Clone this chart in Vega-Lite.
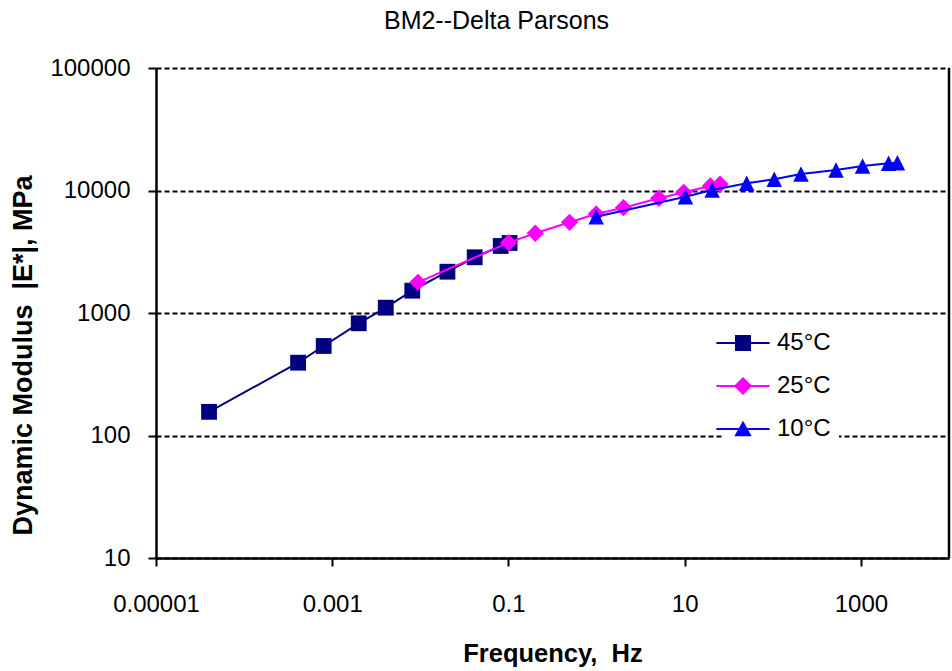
{
  "$schema": "https://vega.github.io/schema/vega-lite/v6.json",
  "width": 793,
  "height": 490,
  "autosize": "none",
  "padding": {"left": 156, "top": 68, "right": 3, "bottom": 113},
  "background": "white",
  "config": {"view": {"stroke": null}, "font": "Liberation Sans"},
  "title": {"text": "BM2--Delta Parsons", "fontSize": 25, "fontWeight": "normal", "font": "Liberation Sans", "color": "black", "anchor": "middle", "frame": "group", "dx": -56, "offset": 2, "baseline": "alphabetic"},
  "data": {"values": [
    {"series": "45°C", "f": 0.00004, "E": 156},
    {"series": "45°C", "f": 0.00041, "E": 393},
    {"series": "45°C", "f": 0.0008, "E": 538},
    {"series": "45°C", "f": 0.002, "E": 824},
    {"series": "45°C", "f": 0.00405, "E": 1105},
    {"series": "45°C", "f": 0.0081, "E": 1521},
    {"series": "45°C", "f": 0.0203, "E": 2173},
    {"series": "45°C", "f": 0.0414, "E": 2850},
    {"series": "45°C", "f": 0.0817, "E": 3524},
    {"series": "45°C", "f": 0.103, "E": 3728},
    {"series": "25°C", "f": 0.0094, "E": 1781},
    {"series": "25°C", "f": 0.1005, "E": 3750},
    {"series": "25°C", "f": 0.2018, "E": 4475},
    {"series": "25°C", "f": 0.494, "E": 5500},
    {"series": "25°C", "f": 0.99, "E": 6430},
    {"series": "25°C", "f": 2.02, "E": 7240},
    {"series": "25°C", "f": 5.09, "E": 8640},
    {"series": "25°C", "f": 9.77, "E": 9670},
    {"series": "25°C", "f": 19.6, "E": 10880},
    {"series": "25°C", "f": 25.2, "E": 11250},
    {"series": "10°C", "f": 0.99, "E": 6110},
    {"series": "10°C", "f": 10.2, "E": 8900},
    {"series": "10°C", "f": 20.5, "E": 10090},
    {"series": "10°C", "f": 50.6, "E": 11460},
    {"series": "10°C", "f": 104, "E": 12340},
    {"series": "10°C", "f": 209, "E": 13640},
    {"series": "10°C", "f": 522, "E": 14700},
    {"series": "10°C", "f": 1045, "E": 15850},
    {"series": "10°C", "f": 2060, "E": 16680},
    {"series": "10°C", "f": 2600, "E": 16870}
  ]},
  "encoding": {
    "x": {"field": "f", "type": "quantitative",
      "scale": {"type": "log", "domain": [0.00001, 10000], "nice": false},
      "axis": {"values": [0.00001, 0.001, 0.1, 10, 1000], "format": "~f", "labelFontSize": 24, "labelFont": "Liberation Sans", "labelColor": "black", "labelBaseline": "alphabetic", "labelPadding": 45, "labelFlush": false, "labelOverlap": false, "tickSize": 8, "tickWidth": 2, "tickColor": "black", "domainColor": "black", "domainWidth": 2.5, "grid": false, "title": "Frequency,\u00a0 Hz", "titleFontSize": 25.5, "titleFont": "Liberation Sans", "titleFontWeight": "bold", "titleColor": "black", "titleBaseline": "alphabetic", "titleY": 103}},
    "y": {"field": "E", "type": "quantitative",
      "scale": {"type": "log", "domain": [10, 100000], "nice": false},
      "axis": {"values": [10, 100, 1000, 10000, 100000], "format": "d", "labelFontSize": 24, "labelFont": "Liberation Sans", "labelColor": "black", "labelPadding": 18, "labelOverlap": false, "tickSize": 8, "tickWidth": 2, "tickColor": "black", "domainColor": "black", "domainWidth": 2.5, "grid": true, "gridColor": "black", "gridDash": [5, 3], "gridWidth": 1.8, "gridOpacity": 1, "title": "Dynamic Modulus\u00a0 |E*|, MPa", "titleFontSize": 27, "titleFont": "Liberation Sans", "titleFontWeight": "bold", "titleColor": "black", "titleX": -133, "titleY": 287, "titleAngle": -90, "titleAlign": "center", "titleBaseline": "middle"}}
  },
  "layer": [
    {"mark": {"type": "point", "opacity": 0},
     "encoding": {
       "fill": {"field": "series", "type": "nominal", "scale": {"domain": ["45°C", "25°C", "10°C"], "range": ["#000080", "#FF00FF", "#0000FF"]},
         "legend": {"orient": "none", "legendX": 567, "legendY": 255, "title": null, "labelFontSize": 24, "labelFont": "Liberation Sans", "labelColor": "black", "symbolSize": 196, "symbolStrokeWidth": 2, "symbolOpacity": 1, "rowPadding": 19, "labelOffset": 22, "padding": 8, "fillColor": "white"}},
       "stroke": {"field": "series", "type": "nominal", "scale": {"domain": ["45°C", "25°C", "10°C"], "range": ["#000080", "#FF00FF", "#0000FF"]},
         "legend": {"orient": "none", "legendX": 567, "legendY": 255, "title": null, "labelFontSize": 24, "labelFont": "Liberation Sans", "labelColor": "black", "symbolSize": 196, "symbolStrokeWidth": 2, "symbolOpacity": 1, "rowPadding": 19, "labelOffset": 22, "padding": 8, "fillColor": "white"}},
       "shape": {"field": "series", "type": "nominal", "scale": {"domain": ["45°C", "25°C", "10°C"], "range": ["M-3.8,0H3.8M-1,-1H1V1H-1Z", "M-3.8,0H3.8M0,-1.1L1.1,0L0,1.1L-1.1,0Z", "M-3.8,0H3.8M0,-0.9L1,0.9H-1Z"]},
         "legend": {"orient": "none", "legendX": 567, "legendY": 255, "title": null, "labelFontSize": 24, "labelFont": "Liberation Sans", "labelColor": "black", "symbolSize": 196, "symbolStrokeWidth": 2, "symbolOpacity": 1, "rowPadding": 19, "labelOffset": 22, "padding": 8, "fillColor": "white"}}
     }},
    {"data": {"values": [{"edge": 10000}]},
     "mark": {"type": "rule", "color": "black", "strokeWidth": 2.5},
     "encoding": {"x": {"field": "edge", "type": "quantitative"}, "y": null}},
    {"transform": [{"filter": "datum.series === '45°C'"}],
     "mark": {"type": "line", "strokeWidth": 2, "color": "#000080", "point": {"filled": true, "shape": "square", "size": 250, "opacity": 1, "color": "#000080"}}},
    {"transform": [{"filter": "datum.series === '25°C'"}],
     "mark": {"type": "line", "strokeWidth": 2, "color": "#FF00FF", "point": {"filled": true, "shape": "diamond", "size": 300, "opacity": 1, "color": "#FF00FF"}}},
    {"transform": [{"filter": "datum.series === '10°C'"}],
     "mark": {"type": "line", "strokeWidth": 2, "color": "#0000FF", "point": {"filled": true, "shape": "M0,-1L1,1H-1Z", "size": 240, "opacity": 1, "color": "#0000FF"}}}
  ]
}
